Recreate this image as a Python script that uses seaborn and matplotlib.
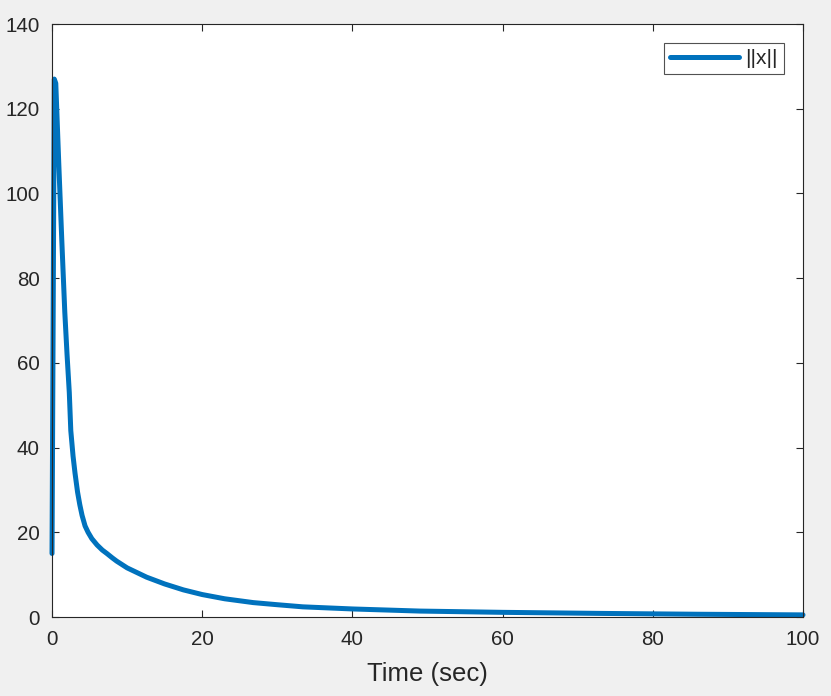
import numpy as np
import pandas as pd
import matplotlib
matplotlib.use("Agg")
import matplotlib.pyplot as plt
import seaborn as sns

# values
time_sec = [0.0, 0.15, 0.3, 0.5, 0.9, 1.3, 1.7, 2.0, 2.3, 2.5, 2.8, 3.06, 3.4,
            3.7, 4.0, 4.4, 4.8, 5.3, 6.0, 6.7, 7.3, 8.0, 8.6, 10.0, 12.6,
            15.0, 17.5, 20.0, 23.0, 26.8, 30.0, 33.4, 40.0, 49.0, 60.0, 73.0,
            86.0, 100.0]
norm_x = [15.0, 70.0, 127.0, 126.0, 107.0, 89.0, 72.0, 62.0, 53.0, 44.0, 38.0,
          34.0, 29.5, 26.5, 24.0, 21.5, 20.0, 18.5, 17.0, 15.8, 15.0, 14.0,
          13.2, 11.6, 9.4, 7.8, 6.4, 5.3, 4.3, 3.4, 2.9, 2.4, 1.9, 1.4, 1.1,
          0.85, 0.65, 0.5]

x_ticks = [0, 20, 40, 60, 80, 100]
y_ticks = [0, 20, 40, 60, 80, 100, 120, 140]

df = pd.DataFrame({"t": time_sec, "x": norm_x})

sns.set_style("white")
plt.rcParams["font.family"] = ["Liberation Sans", "DejaVu Sans"]

fig = plt.figure(figsize=(8.31, 6.96), dpi=100, facecolor="#f0f0f0")
ax = fig.add_axes([0.0626, 0.1135, 0.9037, 0.852])
ax.set_facecolor("white")

sns.lineplot(data=df, x="t", y="x", ax=ax, color="#0072BD", linewidth=3.6,
             estimator=None, sort=False, label="||x||")
for ln in ax.get_lines():
    ln.set_clip_on(False)

ax.set_xlim(0, 100)
ax.set_ylim(0, 140)
ax.set_xticks(x_ticks)
ax.set_yticks(y_ticks)
ax.tick_params(direction="in", length=5, width=0.8, colors="#262626",
               labelsize=14.8, top=True, right=True, bottom=True, left=True,
               labeltop=False, labelright=False)
ax.tick_params(axis="x", pad=9)
ax.tick_params(axis="y", pad=9)
for s in ax.spines.values():
    s.set_visible(True)
    s.set_color("#262626")
    s.set_linewidth(0.8)

ax.set_xlabel("Time (sec)", fontsize=18.5, color="#262626", labelpad=10)
ax.set_ylabel("")

leg = ax.legend(loc="upper right", fontsize=15, frameon=True, fancybox=False,
                handlelength=3.3, handletextpad=0.3, borderpad=0.3,
                borderaxespad=0, bbox_to_anchor=(0.9747, 0.968))
leg.get_frame().set_edgecolor("#262626")
leg.get_frame().set_linewidth(0.8)

fig.savefig("out.png", dpi=100, facecolor=fig.get_facecolor())
